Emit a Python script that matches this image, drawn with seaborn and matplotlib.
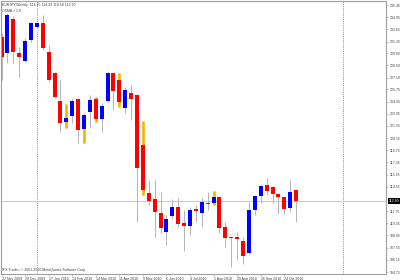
import numpy as np
import pandas as pd
import matplotlib
matplotlib.use("Agg")
import matplotlib.pyplot as plt
import matplotlib.transforms as mtransforms
import seaborn as sns

# ---- data (weekly EURJPY candles) ----
opens = [131.77, 129.93, 133.84, 129.93, 129.01, 131.43, 132.92, 133.38, 130.05, 127.63,
         124.41, 122.00, 122.69, 124.64, 121.19, 123.15, 124.64, 122.34, 124.41, 127.63,
         126.83, 123.60, 125.33, 125.10, 119.35, 113.83, 113.14, 111.53, 109.35, 111.19,
         112.22, 110.38, 110.04, 111.99, 111.53, 112.68, 112.68, 113.37, 109.92, 108.77,
         108.77, 108.31, 106.93, 111.88, 113.49, 114.75, 114.52, 113.72, 113.37, 112.10,
         114.15]
highs = [132.20, 134.53, 134.19, 130.62, 131.66, 133.50, 133.50, 134.30, 130.85, 127.75,
         126.83, 124.07, 124.64, 124.76, 123.03, 125.10, 124.87, 124.18, 127.75, 127.70,
         127.63, 126.02, 126.25, 125.20, 122.11, 115.33, 115.33, 113.95, 111.30, 113.14,
         113.26, 111.88, 112.22, 112.45, 113.26, 113.95, 114.06, 113.49, 110.50, 108.80,
         109.35, 108.77, 112.80, 113.60, 114.75, 115.55, 114.60, 113.85, 113.50, 115.33,
         114.29]
lows = [126.80, 128.78, 128.78, 127.17, 128.90, 131.20, 132.80, 130.30, 126.60, 124.76,
        120.85, 121.30, 121.88, 119.58, 119.58, 121.30, 122.00, 120.85, 124.30, 123.38,
        123.72, 123.03, 122.23, 110.50, 113.60, 112.45, 108.77, 109.23, 107.85, 110.84,
        109.92, 107.16, 108.95, 110.50, 109.92, 111.88, 112.45, 109.23, 107.62, 105.32,
        106.12, 105.67, 106.80, 111.30, 112.68, 113.60, 112.68, 111.42, 111.42, 111.65,
        110.50]
closes = [129.47, 134.30, 130.05, 129.47, 131.31, 133.38, 133.38, 130.50, 126.83, 124.87,
          121.88, 122.46, 124.41, 121.08, 122.80, 124.53, 122.34, 123.84, 127.63, 125.56,
          124.30, 125.68, 124.64, 116.70, 114.17, 112.90, 111.65, 109.80, 110.84, 112.22,
          110.27, 110.04, 111.88, 111.76, 112.80, 112.62, 113.37, 109.80, 108.66, 108.66,
          108.54, 106.58, 111.88, 113.49, 114.64, 114.06, 113.72, 113.37, 111.99, 113.95,
          112.90]

# orange (gold) highlighted ranges
gold_weeks = [11, 14, 16, 20, 24, 36]
gold_high = [124.07, 121.19, 124.87, 127.63, 122.11, 114.06]
gold_low = [121.30, 119.58, 122.00, 123.72, 113.60, 112.45]

ytick_labels = ["135.45", "134.05", "132.65", "131.25", "129.90", "128.50", "127.10",
                "125.75", "124.35", "122.95", "121.55", "120.15", "118.75", "117.35",
                "115.95", "114.55", "111.75", "110.35", "108.95", "107.55", "106.15",
                "104.75"]

start_date = "2009-11-22"
n_slots = 66  # bars + empty shift space on the right

symbol_line = "EURJPY,Weekly"
indicator_line = "OSMA = 1.0"
copyright_line = "IFX Trader, \u00a9 2001-2010 MetaQuotes Software Corp."

# ---- build ----
sns.set_theme(style="white")
plt.rcParams["font.family"] = ["Liberation Sans", "DejaVu Sans"]

n = len(opens)
dates = pd.date_range(start_date, periods=n_slots, freq="7D")
df = pd.DataFrame({"week": np.arange(n), "open": opens, "high": highs,
                   "low": lows, "close": closes})
df["bottom"] = df[["open", "close"]].min(axis=1)
df["height"] = (df["close"] - df["open"]).abs().clip(lower=0.09)
df["color"] = np.where(df["close"] > df["open"], "#0000ff", "#ff0000")

fig = plt.figure(figsize=(4, 2.8), dpi=100)
fig.patch.set_facecolor("white")
ax = fig.add_axes([0.00125, 0.0214, 0.964, 0.975])
ax.set_facecolor("white")

# year separators (dotted)
years = dates.year
for i in range(1, n_slots):
    if years[i] != years[i - 1]:
        ax.axvline(i, color="#8c8c8c", lw=0.7, ls=(0, (1, 1.2)), zorder=0)

# bid line
ax.axhline(closes[-1], color="#c8c8c8", lw=0.7, zorder=0.5)

# wicks
ax.vlines(df["week"], df["low"], df["high"], color="#b4b4b4", lw=0.7, zorder=1)
ax.vlines(gold_weeks, gold_low, gold_high, color="#f2b500", lw=1.9, zorder=1.5)
# bodies
ax.bar(df["week"], df["height"], bottom=df["bottom"], width=0.68,
       color=df["color"], edgecolor="none", zorder=2)

ax.set_xlim(-0.17, 65.28)
ax.set_ylim(104.52, 135.91)

# x ticks: every 4 weeks
tick_pos = list(range(0, n, 4))
ax.set_xticks(tick_pos)
ax.set_xticklabels([f"{dates[i].day} {dates[i]:%b %Y}" for i in tick_pos],
                   fontsize=2.5, color="#404040")
for lab in ax.get_xticklabels():
    lab.set_ha("left")
ax.tick_params(axis="x", length=1.5, width=0.4, color="#9a9a9a", pad=0.8,
               bottom=True)

# y ticks on the right
ax.yaxis.tick_right()
ax.set_yticks([float(v) for v in ytick_labels])
ax.set_yticklabels(ytick_labels, fontsize=2.5, color="#404040")
ax.tick_params(axis="y", length=1.5, width=0.4, color="#9a9a9a", pad=0.8,
               right=True)

for sp in ax.spines.values():
    sp.set_color("#a0a0a0")
    sp.set_linewidth(0.8)

# current price label
trans = mtransforms.blended_transform_factory(ax.transAxes, ax.transData)
ax.text(1.006, closes[-1], f"{closes[-1]:.2f}", transform=trans, ha="left",
        va="center", fontsize=2.5, color="white",
        bbox=dict(boxstyle="square,pad=0.25", fc="black", ec="none"), clip_on=False)

# header / footer texts
ax.text(0.004, 0.994,
        f"{symbol_line}  {opens[-1]:.2f} {highs[-1]:.2f} {lows[-1]:.2f} {closes[-1]:.2f}",
        transform=ax.transAxes, ha="left", va="top", fontsize=2.5, color="#404040")
ax.text(0.004, 0.972, indicator_line, transform=ax.transAxes, ha="left", va="top",
        fontsize=2.5, color="#404040")
ax.text(0.004, 0.008, copyright_line, transform=ax.transAxes, ha="left", va="bottom",
        fontsize=2.5, color="#404040")

fig.savefig("out.png", dpi=100, facecolor="white")
